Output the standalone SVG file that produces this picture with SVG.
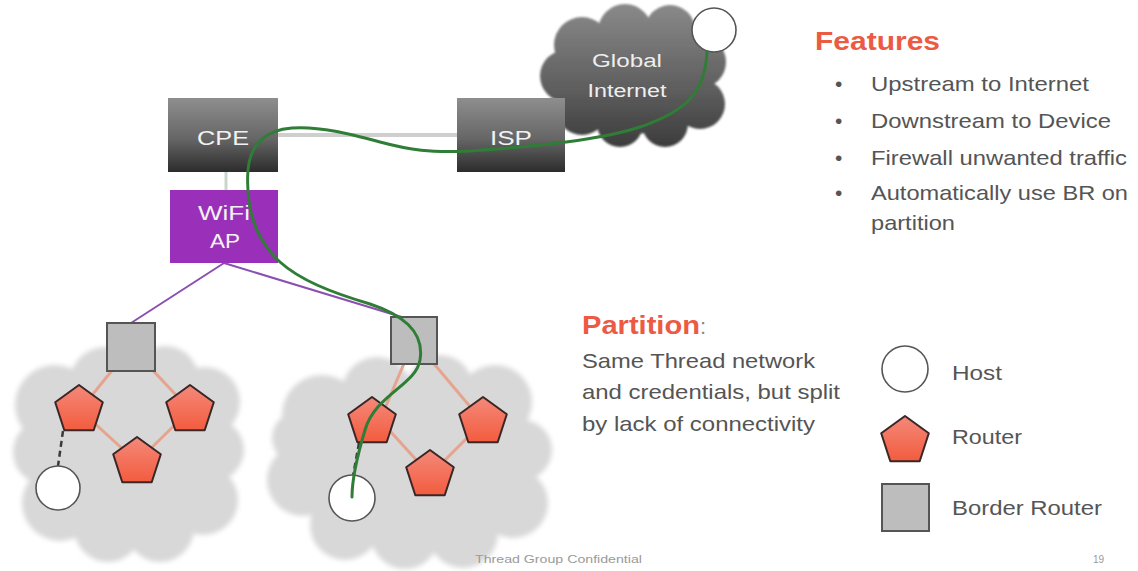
<svg xmlns="http://www.w3.org/2000/svg" xmlns:xlink="http://www.w3.org/1999/xlink" width="1138" height="571" viewBox="0 0 1138 571">
  <style>
    text { font-family: "Liberation Sans", Arial, sans-serif; }
    .box-label { fill: #f2f2f2; font-size: 21px; text-anchor: middle; }
    .cloud-label { fill: #eeeeee; font-size: 18px; text-anchor: middle; }
    .heading { fill: #ec5a43; font-size: 25px; font-weight: bold; }
    .body { fill: #555555; font-size: 21px; }
    .legend { fill: #555555; font-size: 21px; }
    .footer { fill: #9a9a9a; font-size: 10px; }
    .mesh { stroke: #e6a48e; stroke-width: 3; fill: none; }
    .uplink { stroke: #8a4fb0; stroke-width: 2; fill: none; }
    .wire { stroke: #cfcfcf; stroke-width: 4; fill: none; }
    .dash { stroke: #3a3a3a; stroke-width: 2.5; stroke-dasharray: 6 4; fill: none; }
    .route { stroke: #2f7d36; stroke-width: 3; fill: none; stroke-linecap: round; }
    .host { fill: #ffffff; stroke: #555555; stroke-width: 1.6; }
    .br { fill: #bdbdbd; stroke: #555555; stroke-width: 2; }
    .router { fill: url(#routerFill); stroke: #3a2626; stroke-width: 2; stroke-linejoin: round; }
  </style>
  <defs>
    <linearGradient id="boxFill" x1="0" y1="0" x2="0" y2="1">
      <stop offset="0" stop-color="#8e8e8e"/>
      <stop offset="0.55" stop-color="#666666"/>
      <stop offset="1" stop-color="#2c2c2c"/>
    </linearGradient>
    <linearGradient id="netCloudFill" gradientUnits="userSpaceOnUse" x1="0" y1="3" x2="0" y2="147">
      <stop offset="0" stop-color="#8a8a8a"/>
      <stop offset="0.6" stop-color="#5e5e5e"/>
      <stop offset="1" stop-color="#3c3c3c"/>
    </linearGradient>
    <linearGradient id="routerFill" x1="0" y1="0" x2="0" y2="1">
      <stop offset="0" stop-color="#f4897a"/>
      <stop offset="1" stop-color="#f25c3e"/>
    </linearGradient>
    <filter id="soft" x="-10%" y="-10%" width="120%" height="120%">
      <feGaussianBlur stdDeviation="2.5"/>
    </filter>
    <filter id="softDark" x="-10%" y="-10%" width="120%" height="120%">
      <feGaussianBlur stdDeviation="1"/>
    </filter>
    <path id="pentagon" d="M0,-25 L23.8,-7.7 L14.7,20.2 L-14.7,20.2 L-23.8,-7.7 Z"/>
  </defs>

  <rect width="1138" height="571" fill="#ffffff"/>

  <!-- mesh network clouds -->
  <g id="cloud-left" fill="#d8d8d8" filter="url(#soft)">
    <ellipse cx="128" cy="456" rx="88" ry="82"/>
    <circle cx="55" cy="405" r="40"/>
    <circle cx="105" cy="382" r="35"/>
    <circle cx="165" cy="380" r="34"/>
    <circle cx="205" cy="402" r="35"/>
    <circle cx="213" cy="450" r="31"/>
    <circle cx="203" cy="500" r="35"/>
    <circle cx="160" cy="528" r="34"/>
    <circle cx="108" cy="528" r="34"/>
    <circle cx="60" cy="503" r="38"/>
    <circle cx="46" cy="452" r="33"/>
  </g>
  <g id="cloud-right" fill="#d8d8d8" filter="url(#soft)">
    <ellipse cx="410" cy="462" rx="112" ry="82"/>
    <circle cx="322" cy="415" r="40"/>
    <circle cx="377" cy="392" r="35"/>
    <circle cx="440" cy="388" r="33"/>
    <circle cx="495" cy="402" r="37"/>
    <circle cx="522" cy="450" r="30"/>
    <circle cx="513" cy="503" r="35"/>
    <circle cx="463" cy="533" r="35"/>
    <circle cx="405" cy="535" r="34"/>
    <circle cx="345" cy="525" r="35"/>
    <circle cx="303" cy="480" r="36"/>
    <circle cx="298" cy="438" r="26"/>
  </g>

  <!-- Global Internet cloud -->
  <g id="global-internet">
    <g fill="url(#netCloudFill)" filter="url(#softDark)">
      <ellipse cx="632" cy="78" rx="72" ry="56"/>
      <circle cx="582" cy="45" r="28"/>
      <circle cx="625" cy="31" r="27"/>
      <circle cx="670" cy="30" r="25"/>
      <circle cx="700" cy="62" r="26"/>
      <circle cx="700" cy="104" r="25"/>
      <circle cx="665" cy="124" r="23"/>
      <circle cx="620" cy="124" r="23"/>
      <circle cx="582" cy="110" r="25"/>
      <circle cx="566" cy="76" r="26"/>
    </g>
    <text class="cloud-label" x="627" y="67" textLength="70" lengthAdjust="spacingAndGlyphs">Global</text>
    <text class="cloud-label" x="627" y="97" textLength="79" lengthAdjust="spacingAndGlyphs">Internet</text>
  </g>

  <!-- links drawn beneath the nodes -->
  <g id="connectors">
    <line class="wire" x1="278" y1="135" x2="457" y2="135"/>
    <line x1="226" y1="172" x2="226" y2="190" stroke="#c9d6c9" stroke-width="3"/>
    <line class="uplink" x1="224" y1="263" x2="131" y2="323"/>
    <line class="uplink" x1="224" y1="263" x2="405" y2="318"/>
    <!-- left partition mesh -->
    <path class="mesh" d="M131,347 L80,410 L137,462 L190,410 Z"/>
    <!-- right partition mesh -->
    <path class="mesh" d="M414,340 L380,420 L430,475 L483,422 Z"/>
    <line class="dash" x1="63" y1="431" x2="58" y2="466"/>
    <line class="dash" x1="359" y1="443" x2="353" y2="476"/>
  </g>

  <!-- CPE and ISP -->
  <g id="cpe">
    <rect x="168" y="98" width="110" height="74" fill="url(#boxFill)"/>
    <text class="box-label" x="223" y="145" textLength="52" lengthAdjust="spacingAndGlyphs">CPE</text>
  </g>
  <g id="isp">
    <rect x="457" y="98" width="108" height="74" fill="url(#boxFill)"/>
    <text class="box-label" x="511" y="145" textLength="42" lengthAdjust="spacingAndGlyphs">ISP</text>
  </g>
  <g id="wifi-ap">
    <rect x="170" y="190" width="108" height="73" fill="#9a30b9"/>
    <text class="box-label" x="224" y="220" textLength="52" lengthAdjust="spacingAndGlyphs">WiFi</text>
    <text class="box-label" x="225" y="248" textLength="30" lengthAdjust="spacingAndGlyphs">AP</text>
  </g>

  <!-- internet host -->
  <g id="host-internet">
    <circle class="host" cx="714" cy="30" r="22"/>
  </g>

  <!-- left partition -->
  <g id="br-left"><rect class="br" x="107" y="323" width="48" height="48"/></g>
  <g id="router-left-1"><use href="#pentagon" class="router" x="79" y="410"/></g>
  <g id="router-left-2"><use href="#pentagon" class="router" x="190" y="410"/></g>
  <g id="router-left-3"><use href="#pentagon" class="router" x="137" y="462"/></g>
  <g id="host-left"><circle class="host" cx="58" cy="488" r="22"/></g>

  <!-- right partition -->
  <g id="br-right"><rect class="br" x="391" y="317" width="46" height="47"/></g>
  <g id="router-right-1"><use href="#pentagon" class="router" x="372" y="422"/></g>
  <g id="router-right-2"><use href="#pentagon" class="router" x="483" y="422"/></g>
  <g id="router-right-3"><use href="#pentagon" class="router" x="430" y="475"/></g>
  <g id="host-right"><circle class="host" cx="352" cy="498" r="23"/></g>

  <!-- end-to-end path from the internet host to the device -->
  <g id="route-path">
    <path class="route" d="M707,52 C705,90 690,110 640,127 C600,140 540,146 470,151 C430,153 410,150 380,142 C350,134 320,126 292,128 C265,130 250,145 248,170 C246,200 250,235 280,262 C300,280 330,292 370,304 C400,314 425,330 420,360 C416,385 375,395 365,430 C356,460 352,480 352,497"/>
  </g>

  <!-- feature list -->
  <g id="features">
    <text class="heading" x="815" y="50" textLength="125" lengthAdjust="spacingAndGlyphs">Features</text>
    <g class="body">
      <text x="835" y="91">•</text>
      <text x="871" y="91" textLength="218" lengthAdjust="spacingAndGlyphs">Upstream to Internet</text>
      <text x="835" y="128">•</text>
      <text x="871" y="128" textLength="240" lengthAdjust="spacingAndGlyphs">Downstream to Device</text>
      <text x="835" y="165">•</text>
      <text x="871" y="165" textLength="256" lengthAdjust="spacingAndGlyphs">Firewall unwanted traffic</text>
      <text x="835" y="200">•</text>
      <text x="871" y="200" textLength="257" lengthAdjust="spacingAndGlyphs">Automatically use BR on</text>
      <text x="871" y="230" textLength="84" lengthAdjust="spacingAndGlyphs">partition</text>
    </g>
  </g>

  <!-- partition note -->
  <g id="partition-note">
    <text x="582" y="334"><tspan class="heading" textLength="118" lengthAdjust="spacingAndGlyphs">Partition</tspan><tspan fill="#888888" font-size="22px">:</tspan></text>
    <text class="body" x="582" y="368" textLength="233" lengthAdjust="spacingAndGlyphs">Same Thread network</text>
    <text class="body" x="582" y="399" textLength="258" lengthAdjust="spacingAndGlyphs">and credentials, but split</text>
    <text class="body" x="582" y="431" textLength="233" lengthAdjust="spacingAndGlyphs">by lack of connectivity</text>
  </g>

  <!-- legend -->
  <g id="legend-host">
    <circle class="host" cx="905" cy="369" r="23"/>
    <text class="legend" x="952" y="380" textLength="50" lengthAdjust="spacingAndGlyphs">Host</text>
  </g>
  <g id="legend-router">
    <use href="#pentagon" class="router" x="905" y="441"/>
    <text class="legend" x="952" y="444" textLength="70" lengthAdjust="spacingAndGlyphs">Router</text>
  </g>
  <g id="legend-border-router">
    <rect class="br" x="882" y="484" width="47" height="47"/>
    <text class="legend" x="952" y="515" textLength="150" lengthAdjust="spacingAndGlyphs">Border Router</text>
  </g>

  <!-- footer -->
  <text class="footer" x="475" y="563" textLength="167" lengthAdjust="spacingAndGlyphs">Thread  Group Confidential</text>
  <text class="footer" x="1093" y="563">19</text>
</svg>
